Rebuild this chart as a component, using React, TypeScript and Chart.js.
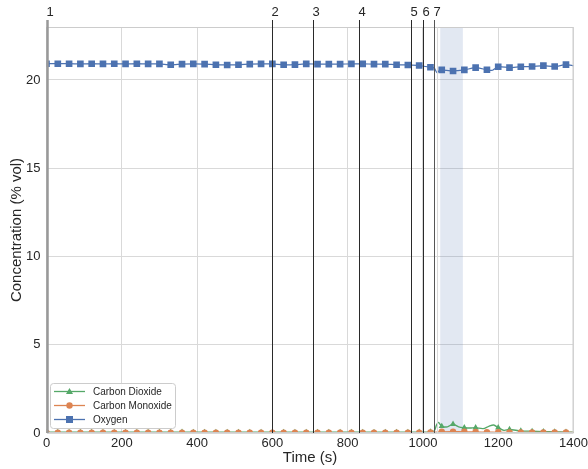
import { useEffect, useRef } from 'react';
import { Chart, registerables } from 'chart.js';

Chart.register(...registerables);

const FONT = '"Liberation Sans", Arial, Helvetica, sans-serif';
const TEXT = '#262626';

const eventTimes = [0, 600, 709, 831, 969, 999, 1029];
const eventLabels = ['1', '2', '3', '4', '5', '6', '7'];
const bandStart = 1046;
const bandEnd = 1106;

const o2Times = [0, 30, 60, 90, 120, 150, 180, 210, 240, 270, 300, 330, 360, 390, 420, 450, 480, 510, 540, 570, 600, 630, 660, 690, 720, 750, 780, 810, 840, 870, 900, 930, 960, 990, 1020, 1030, 1037, 1045, 1050, 1080, 1110, 1140, 1170, 1185, 1200, 1230, 1260, 1290, 1320, 1350, 1380, 1400];
const o2Values = [20.92, 20.92, 20.92, 20.91, 20.92, 20.91, 20.92, 20.91, 20.92, 20.91, 20.91, 20.86, 20.9, 20.91, 20.9, 20.86, 20.85, 20.86, 20.9, 20.91, 20.91, 20.86, 20.87, 20.91, 20.9, 20.9, 20.9, 20.91, 20.91, 20.9, 20.9, 20.86, 20.85, 20.82, 20.72, 20.68, 20.42, 20.55, 20.57, 20.51, 20.57, 20.7, 20.58, 20.55, 20.75, 20.7, 20.75, 20.76, 20.81, 20.76, 20.87, 20.81];

const co2Times = [0, 30, 60, 90, 120, 150, 180, 210, 240, 270, 300, 330, 360, 390, 420, 450, 480, 510, 540, 570, 600, 630, 660, 690, 720, 750, 780, 810, 840, 870, 900, 930, 960, 990, 1020, 1030, 1036, 1041, 1050, 1065, 1080, 1095, 1110, 1125, 1140, 1160, 1175, 1188, 1200, 1215, 1230, 1260, 1290, 1320, 1350, 1380, 1400];
const co2Values = [0.04, 0.04, 0.04, 0.04, 0.04, 0.04, 0.04, 0.04, 0.04, 0.04, 0.04, 0.04, 0.05, 0.04, 0.04, 0.04, 0.04, 0.04, 0.04, 0.04, 0.04, 0.04, 0.04, 0.04, 0.04, 0.04, 0.04, 0.04, 0.04, 0.04, 0.04, 0.04, 0.04, 0.05, 0.06, 0.12, 0.45, 0.6, 0.38, 0.35, 0.5, 0.35, 0.3, 0.28, 0.3, 0.25, 0.38, 0.45, 0.3, 0.15, 0.2, 0.12, 0.1, 0.08, 0.06, 0.05, 0.04];

const coTimes = [0, 30, 60, 90, 120, 150, 180, 210, 240, 270, 300, 330, 360, 390, 420, 450, 480, 510, 540, 570, 600, 630, 660, 690, 720, 750, 780, 810, 840, 870, 900, 930, 960, 990, 1020, 1050, 1080, 1110, 1140, 1170, 1200, 1230, 1260, 1290, 1320, 1350, 1380, 1400];
const coValues = [0.02, 0.02, 0.02, 0.02, 0.02, 0.02, 0.02, 0.02, 0.02, 0.02, 0.02, 0.02, 0.02, 0.02, 0.02, 0.02, 0.02, 0.02, 0.02, 0.02, 0.02, 0.02, 0.02, 0.02, 0.02, 0.02, 0.02, 0.02, 0.02, 0.02, 0.02, 0.02, 0.02, 0.02, 0.03, 0.07, 0.08, 0.07, 0.06, 0.05, 0.04, 0.03, 0.03, 0.03, 0.03, 0.03, 0.03, 0.03];

const xTicks = [0, 200, 400, 600, 800, 1000, 1200, 1400];
const yTicks = [0, 5, 10, 15, 20];

const seriesNames = ['Carbon Dioxide', 'Carbon Monoxide', 'Oxygen'];
const seriesColors = ['#55A868', '#DD8452', '#4C72B0'];
const seriesMarkers = ['triangle', 'circle', 'rect'];

const toPts = (t: number[], v: number[]) => t.map((x, i) => ({ x, y: v[i] }));
const markerRadius = (r: number) => (ctx: any) => (ctx.raw && ctx.raw.x % 30 === 0 ? r : 0);

const overlayPlugin = {
  id: 'overlay',
  beforeDatasetsDraw(chart: any) {
    const { ctx, chartArea, scales } = chart;
    const x0 = scales.x.getPixelForValue(bandStart);
    const x1 = scales.x.getPixelForValue(bandEnd);
    ctx.save();
    ctx.fillStyle = 'rgba(76,114,176,0.16)';
    ctx.fillRect(x0, chartArea.top, x1 - x0, chartArea.bottom - chartArea.top);
    ctx.restore();
  },
  afterDatasetsDraw(chart: any) {
    const { ctx, chartArea, scales } = chart;
    ctx.save();
    ctx.strokeStyle = '#cccccc';
    ctx.lineWidth = 1;
    ctx.strokeRect(chartArea.left + 0.5, chartArea.top + 0.5, chartArea.right - chartArea.left - 1, chartArea.bottom - chartArea.top - 1);
    const fx = Math.round(scales.x.getPixelForValue(1038)) + 0.5;
    ctx.strokeStyle = '#d8d8d8';
    ctx.beginPath();
    ctx.moveTo(fx, chartArea.top);
    ctx.lineTo(fx, chartArea.bottom);
    ctx.stroke();
    ctx.font = `13px ${FONT}`;
    ctx.fillStyle = TEXT;
    ctx.textAlign = 'left';
    ctx.textBaseline = 'middle';
    eventTimes.forEach((t, i) => {
      const x = Math.round(scales.x.getPixelForValue(t)) + 0.5;
      ctx.beginPath();
      if (i === 0) {
        ctx.strokeStyle = '#999999';
        ctx.lineWidth = 2.5;
      } else if (i === eventTimes.length - 1) {
        ctx.strokeStyle = '#555555';
        ctx.lineWidth = 1;
      } else {
        ctx.strokeStyle = '#2a2a2a';
        ctx.lineWidth = 1;
      }
      ctx.moveTo(x, 20);
      ctx.lineTo(x, chartArea.bottom);
      ctx.stroke();
      ctx.fillText(eventLabels[i], x - 1, 12.5);
    });
    ctx.restore();
  },
  afterDraw(chart: any) {
    const { ctx } = chart;
    ctx.save();
    const bx = 50.5, by = 383.5, bw = 125, bh = 45;
    ctx.fillStyle = 'rgba(255,255,255,0.85)';
    ctx.strokeStyle = '#cccccc';
    ctx.lineWidth = 1;
    ctx.beginPath();
    (ctx as any).roundRect(bx, by, bw, bh, 3);
    ctx.fill();
    ctx.stroke();
    ctx.font = `10px ${FONT}`;
    ctx.textAlign = 'left';
    ctx.textBaseline = 'middle';
    const rows = [391.5, 405.5, 419.5];
    seriesNames.forEach((name, i) => {
      const y = rows[i];
      const c = seriesColors[i];
      ctx.strokeStyle = c;
      ctx.fillStyle = c;
      ctx.lineWidth = 1.3;
      ctx.beginPath();
      ctx.moveTo(54, y);
      ctx.lineTo(85, y);
      ctx.stroke();
      const mx = 69.5;
      ctx.beginPath();
      if (seriesMarkers[i] === 'triangle') {
        ctx.moveTo(mx, y - 3.5);
        ctx.lineTo(mx + 3.5, y + 2.5);
        ctx.lineTo(mx - 3.5, y + 2.5);
        ctx.closePath();
      } else if (seriesMarkers[i] === 'circle') {
        ctx.arc(mx, y, 3.2, 0, Math.PI * 2);
      } else {
        ctx.rect(mx - 3.5, y - 3.5, 7, 7);
      }
      ctx.fill();
      ctx.fillStyle = TEXT;
      ctx.fillText(name, 93, y + 0.5);
    });
    ctx.restore();
  },
};

export default function App() {
  const ref = useRef<HTMLCanvasElement>(null);
  useEffect(() => {
    const chart = new Chart(ref.current as HTMLCanvasElement, {
      type: 'line',
      data: {
        datasets: [
          {
            label: seriesNames[2],
            data: toPts(o2Times, o2Values),
            borderColor: seriesColors[2],
            backgroundColor: seriesColors[2],
            borderWidth: 1.2,
            pointStyle: 'rect',
            pointRadius: markerRadius(4.7),
            pointBorderWidth: 0,
            tension: 0.2,
          },
          {
            label: seriesNames[1],
            data: toPts(coTimes, coValues),
            borderColor: seriesColors[1],
            backgroundColor: seriesColors[1],
            borderWidth: 1.2,
            pointStyle: 'circle',
            pointRadius: markerRadius(3.2),
            pointBorderWidth: 0,
            tension: 0.2,
          },
          {
            label: seriesNames[0],
            data: toPts(co2Times, co2Values),
            borderColor: seriesColors[0],
            backgroundColor: seriesColors[0],
            borderWidth: 1.4,
            pointStyle: 'triangle',
            pointRadius: markerRadius(3.6),
            pointBorderWidth: 0,
            tension: 0.3,
          },
        ],
      } as any,
      options: {
        responsive: false,
        devicePixelRatio: 1,
        animation: false,
        parsing: false,
        layout: { padding: { top: 27, right: 14.5, left: 0, bottom: 0 } },
        plugins: { legend: { display: false }, tooltip: { enabled: false } },
        scales: {
          x: {
            type: 'linear',
            min: 0,
            max: 1400,
            afterBuildTicks: (s: any) => { s.ticks = xTicks.map((v) => ({ value: v })); },
            afterFit: (s: any) => { s.height = 36; s.paddingLeft = 0; s.paddingRight = 0; },
            ticks: { color: TEXT, font: { family: FONT, size: 13 }, padding: 3, maxRotation: 0, callback: (v: any) => String(v) },
            grid: { color: '#d9d9d9', drawTicks: false, lineWidth: 1 },
            border: { display: false },
            title: { display: true, text: 'Time (s)', color: TEXT, font: { family: FONT, size: 15 }, padding: { top: 0, bottom: 2 } },
          },
          y: {
            type: 'linear',
            min: 0,
            max: 23,
            afterBuildTicks: (s: any) => { s.ticks = yTicks.map((v) => ({ value: v })); },
            afterFit: (s: any) => { s.width = 46.5; s.paddingTop = 0; s.paddingBottom = 0; },
            ticks: { color: TEXT, font: { family: FONT, size: 13 }, padding: 6, callback: (v: any) => String(v) },
            grid: { color: '#d9d9d9', drawTicks: false, lineWidth: 1 },
            border: { display: false },
            title: { display: true, text: 'Concentration (% vol)', color: TEXT, font: { family: FONT, size: 15 }, padding: { top: 8, bottom: 0 } },
          },
        },
      } as any,
      plugins: [overlayPlugin],
    });
    return () => chart.destroy();
  }, []);
  return (
    <div style={{ position: 'fixed', left: 0, top: 0, width: 588, height: 469, background: '#fff' }}>
      <canvas ref={ref} width={588} height={469} style={{ display: 'block', width: 588, height: 469 }} />
    </div>
  );
}
